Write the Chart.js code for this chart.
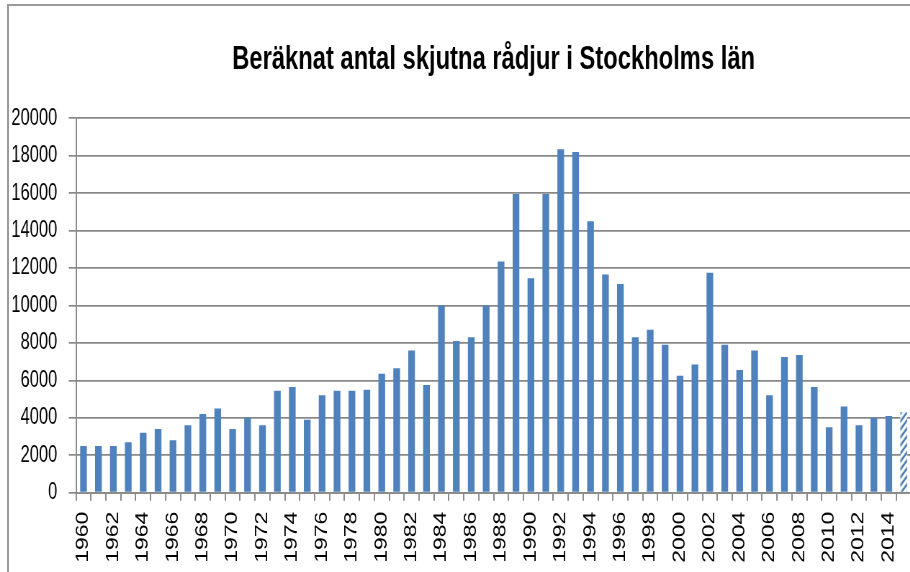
<!DOCTYPE html>
<html>
<head>
<meta charset="utf-8">
<script src="https://cdn.jsdelivr.net/npm/chart.js@4.4.1/dist/chart.umd.min.js"></script>
<style>
  html, body { margin: 0; padding: 0; background: #fff; overflow: hidden; width: 910px; height: 572px; }
  #frame { position: absolute; left: 7px; top: 4px; width: 1000px; height: 700px;
           border-left: 2px solid #9a9a9a; border-top: 2px solid #9a9a9a; }
  #wrap { position: absolute; left: 0; top: 0; width: 1294px; height: 562px;
          transform: scaleX(0.72); transform-origin: 0 0; }
</style>
</head>
<body>
<div id="frame"></div>
<div id="wrap"><canvas id="c" width="1294" height="562"></canvas></div>
<script>
const titleText = 'Beräknat antal skjutna rådjur i Stockholms län';
const years = ['1960','1961','1962','1963','1964','1965','1966','1967','1968','1969',
  '1970','1971','1972','1973','1974','1975','1976','1977','1978','1979',
  '1980','1981','1982','1983','1984','1985','1986','1987','1988','1989',
  '1990','1991','1992','1993','1994','1995','1996','1997','1998','1999',
  '2000','2001','2002','2003','2004','2005','2006','2007','2008','2009',
  '2010','2011','2012','2013','2014','2015'];
const shotRoeDeer = [2500,2500,2500,2700,3200,3400,2800,3600,4200,4500,
  3400,4000,3600,5450,5650,3900,5200,5450,5450,5500,
  6350,6650,7600,5750,10000,8100,8300,10000,12350,15950,
  11450,15950,18350,18200,14500,11650,11150,8300,8700,7900,
  6250,6850,11750,7900,6550,7600,5200,7250,7350,5650,
  3500,4600,3600,4000,4100,4300];
const estimatedYears = ['2015'];
const yTicks = [0,2000,4000,6000,8000,10000,12000,14000,16000,18000,20000];

const BLUE = '#4f81bd';
function hatch() {
  const p = document.createElement('canvas');
  p.width = 8; p.height = 8;
  const g = p.getContext('2d');
  g.fillStyle = '#ffffff'; g.fillRect(0,0,8,8);
  g.strokeStyle = BLUE; g.lineWidth = 2.6;
  g.beginPath();
  g.moveTo(-2,10); g.lineTo(10,-2);
  g.moveTo(-2,2); g.lineTo(2,-2);
  g.moveTo(6,10); g.lineTo(10,6);
  g.stroke();
  return document.getElementById('c').getContext('2d').createPattern(p,'repeat');
}
const pat = hatch();
const colors = years.map(y => estimatedYears.includes(y) ? pat : BLUE);

new Chart(document.getElementById('c'), {
  type: 'bar',
  data: {
    labels: years,
    datasets: [{
      data: shotRoeDeer,
      backgroundColor: colors,
      borderWidth: 0,
      barPercentage: 0.45,
      categoryPercentage: 1.0
    }]
  },
  options: {
    responsive: false,
    animation: false,
    devicePixelRatio: 1,
    layout: { padding: { left: 0, right: 0, top: 0, bottom: 0 } },
    plugins: {
      legend: { display: false },
      tooltip: { enabled: false },
      title: {
        display: true,
        text: titleText,
        fullSize: false,
        color: '#000',
        font: { family: 'Liberation Sans', size: 33, weight: 'bold', lineHeight: 1.2 },
        padding: { top: 40.2, bottom: 38.5 }
      }
    },
    scales: {
      x: {
        offset: true,
        afterFit: s => { s.height = 69.3; },
        grid: {
          offset: true,
          drawOnChartArea: false,
          drawTicks: true,
          tickLength: 8,
          color: '#8c8c8c',
          lineWidth: 2
        },
        border: { display: true, color: '#8c8c8c', width: 2 },
        ticks: {
          autoSkip: false,
          minRotation: 90,
          maxRotation: 90,
          padding: 11,
          color: '#000',
          font: { family: 'Liberation Sans', size: 23 },
          callback: function(v, i) { return i % 2 === 0 ? years[i] : ''; }
        }
      },
      y: {
        min: 0,
        max: 20000,
        afterFit: s => { s.width = 105.6; },
        afterBuildTicks: s => { s.ticks = yTicks.map(v => ({ value: v })); },
        grid: {
          color: '#888888',
          lineWidth: 1.7,
          drawTicks: true,
          tickLength: 10
        },
        border: { display: true, color: '#8c8c8c', width: 2 },
        ticks: {
          padding: 16,
          color: '#000',
          font: { family: 'Liberation Sans', size: 23 },
          callback: v => String(v)
        }
      }
    }
  }
});
</script>
</body>
</html>
